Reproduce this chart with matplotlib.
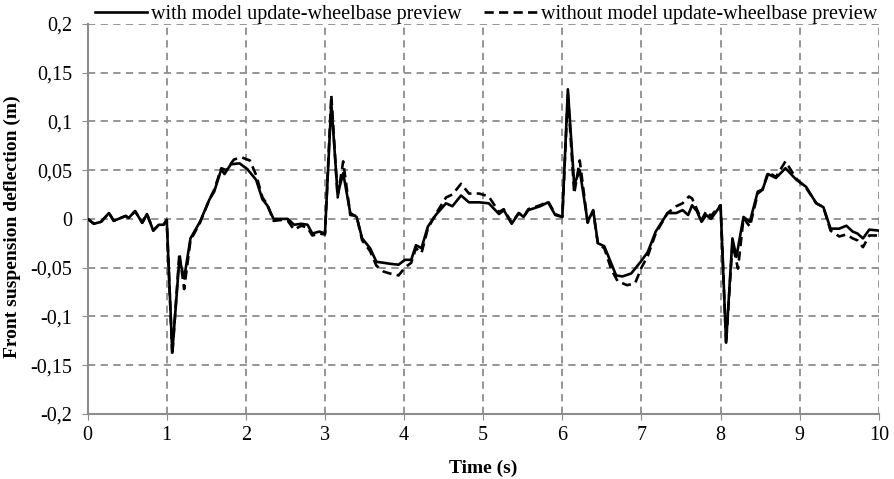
import matplotlib
matplotlib.use('Agg')
import matplotlib.pyplot as plt
import numpy as np

# solid: with model update-wheelbase preview
t_with = [0.0, 0.08, 0.17, 0.27, 0.33, 0.48, 0.52, 0.60, 0.69, 0.75, 0.83, 0.90, 0.96, 1.0,
          1.07, 1.16, 1.22, 1.30, 1.42, 1.54, 1.60, 1.69, 1.73, 1.81, 1.92, 2.02, 2.13, 2.21,
          2.27, 2.35, 2.46, 2.53, 2.61, 2.70, 2.78, 2.84, 2.93, 3.0, 3.08, 3.16, 3.23, 3.32,
          3.40, 3.47, 3.57, 3.65, 3.74, 3.82, 3.93, 4.01, 4.09, 4.15, 4.22, 4.30, 4.40, 4.53,
          4.61, 4.72, 4.82, 4.95, 5.07, 5.20, 5.26, 5.36, 5.45, 5.51, 5.57, 5.72, 5.82, 5.91,
          6.0, 6.07, 6.15, 6.22, 6.32, 6.39, 6.45, 6.53, 6.62, 6.68, 6.76, 6.87, 6.99, 7.08,
          7.18, 7.33, 7.44, 7.52, 7.59, 7.64, 7.70, 7.76, 7.82, 7.88, 7.95, 8.0, 8.07, 8.15,
          8.20, 8.29, 8.37, 8.47, 8.53, 8.60, 8.70, 8.82, 8.96, 9.08, 9.21, 9.30, 9.39, 9.50,
          9.59, 9.67, 9.73, 9.80, 9.88, 10.0]
v_with = [0.0, -0.005, -0.003, 0.006, -0.002, 0.003, 0.001, 0.008, -0.004, 0.005, -0.012, -0.006,
          -0.006, -0.001, -0.137, -0.041, -0.061, -0.020, -0.003, 0.020, 0.028, 0.051, 0.046,
          0.056, 0.057, 0.051, 0.040, 0.020, 0.014, 0.0, 0.0, 0.0, -0.006, -0.005, -0.006,
          -0.015, -0.013, -0.015, 0.119, 0.025, 0.047, 0.006, 0.002, -0.020, -0.030, -0.044,
          -0.045, -0.046, -0.047, -0.042, -0.042, -0.027, -0.030, -0.008, 0.004, 0.016, 0.013,
          0.024, 0.017, 0.017, 0.016, 0.005, 0.009, -0.005, 0.006, 0.002, 0.009, 0.013, 0.017,
          0.004, 0.002, 0.133, 0.035, 0.050, -0.003, 0.009, -0.025, -0.028, -0.046, -0.058,
          -0.059, -0.056, -0.044, -0.034, -0.013, 0.006, 0.006, 0.009, 0.004, 0.014, 0.008,
          -0.003, 0.004, 0.0, 0.008, 0.014, -0.127, -0.020, -0.039, 0.002, -0.003, 0.028, 0.030,
          0.046, 0.042, 0.052, 0.040, 0.033, 0.016, 0.012, -0.010, -0.010, -0.007, -0.013,
          -0.015, -0.020, -0.011, -0.012]

# dashed: without model update-wheelbase preview
t_without = [0.0, 0.08, 0.17, 0.27, 0.33, 0.48, 0.52, 0.60, 0.69, 0.75, 0.83, 0.90, 0.96, 1.0,
             1.07, 1.16, 1.22, 1.30, 1.42, 1.54, 1.60, 1.69, 1.75, 1.85, 1.95, 2.05, 2.13, 2.21,
             2.27, 2.35, 2.46, 2.53, 2.61, 2.70, 2.78, 2.84, 2.93, 3.0, 3.08, 3.16, 3.23, 3.32,
             3.40, 3.47, 3.57, 3.65, 3.74, 3.82, 3.93, 4.01, 4.09, 4.15, 4.22, 4.30, 4.40, 4.53,
             4.61, 4.72, 4.82, 4.95, 5.07, 5.20, 5.26, 5.36, 5.45, 5.51, 5.57, 5.72, 5.82, 5.91,
             6.0, 6.07, 6.15, 6.22, 6.32, 6.39, 6.45, 6.53, 6.62, 6.70, 6.82, 6.92, 7.0, 7.08,
             7.18, 7.33, 7.44, 7.52, 7.60, 7.64, 7.70, 7.76, 7.82, 7.88, 7.95, 8.0, 8.07, 8.15,
             8.22, 8.29, 8.37, 8.47, 8.53, 8.60, 8.70, 8.82, 8.96, 9.08, 9.21, 9.30, 9.39, 9.50,
             9.59, 9.67, 9.73, 9.80, 9.88, 10.0]
v_without = [0.0, -0.005, -0.003, 0.006, -0.002, 0.003, 0.001, 0.008, -0.004, 0.005, -0.012, -0.006,
             -0.006, -0.001, -0.140, -0.035, -0.072, -0.022, -0.004, 0.020, 0.030, 0.052, 0.050,
             0.061, 0.063, 0.060, 0.045, 0.022, 0.015, -0.002, -0.001, -0.002, -0.011, -0.007,
             -0.009, -0.017, -0.015, -0.016, 0.127, 0.022, 0.059, 0.004, 0.003, -0.022, -0.033,
             -0.048, -0.054, -0.056, -0.058, -0.050, -0.045, -0.030, -0.035, -0.010, 0.005,
             0.022, 0.025, 0.036, 0.026, 0.026, 0.023, 0.007, 0.010, -0.004, 0.006, 0.002, 0.010,
             0.014, 0.018, 0.005, 0.002, 0.128, 0.026, 0.060, -0.004, 0.008, -0.026, -0.030,
             -0.052, -0.064, -0.068, -0.066, -0.050, -0.038, -0.015, 0.006, 0.013, 0.016, 0.023,
             0.021, 0.010, -0.001, 0.008, 0.003, 0.010, 0.014, -0.128, -0.025, -0.051, 0.001,
             -0.008, 0.026, 0.030, 0.048, 0.043, 0.059, 0.041, 0.032, 0.016, 0.012, -0.012,
             -0.018, -0.016, -0.020, -0.022, -0.029, -0.017, -0.017]

x_ticks = list(range(0, 11))
y_ticks = [-0.2, -0.15, -0.1, -0.05, 0, 0.05, 0.1, 0.15, 0.2]
y_labels = ['-0,2', '-0,15', '-0,1', '-0,05', '0', '0,05', '0,1', '0,15', '0,2']

plt.rcParams['font.family'] = ['Liberation Serif', 'DejaVu Serif']

fig = plt.figure(figsize=(8.94, 4.79), dpi=100)
ax = fig.add_axes([0.098, 0.136, 0.885, 0.814])

grid_kw = dict(color='#8c8c8c', linewidth=1.3, linestyle=(0, (4, 3)))
for x in x_ticks[1:]:
    ax.axvline(x, zorder=1, **grid_kw)
for y in y_ticks[1:]:
    ax.axhline(y, zorder=1, **grid_kw)

ax.plot(t_with, v_with, color='black', linewidth=1.9, zorder=3,
        label='with model update-wheelbase preview')
ax.plot(t_without, v_without, color='black', linewidth=1.9, linestyle=(0, (3.5, 2)),
        zorder=2, label='without model update-wheelbase preview')

ax.set_xlim(0, 10)
ax.set_ylim(-0.2, 0.2)
ax.set_xticks(x_ticks)
ax.set_yticks(y_ticks)
ax.set_yticklabels(y_labels)
ax.tick_params(axis='both', labelsize=14.5, colors='#8c8c8c', labelcolor='black',
               direction='out', length=4)
ax.tick_params(axis='y', pad=7)
ax.tick_params(axis='x', pad=5)
for s in ['top', 'right']:
    ax.spines[s].set_visible(False)
for s in ['left', 'bottom']:
    ax.spines[s].set_color('#8c8c8c')
    ax.spines[s].set_linewidth(1.5)

ax.set_xlabel('Time (s)', fontsize=14, fontweight='bold', labelpad=10)
ax.set_ylabel('Front suspension deflection (m)', fontsize=14, fontweight='bold')
ax.yaxis.set_label_coords(-0.084, 0.48)

fig.legend(loc='upper left', bbox_to_anchor=(0.086, 1.027), ncol=2, frameon=False,
           fontsize=14.5, handlelength=2.6, columnspacing=1.1, handletextpad=0.2)

fig.savefig('out.png', dpi=100)
